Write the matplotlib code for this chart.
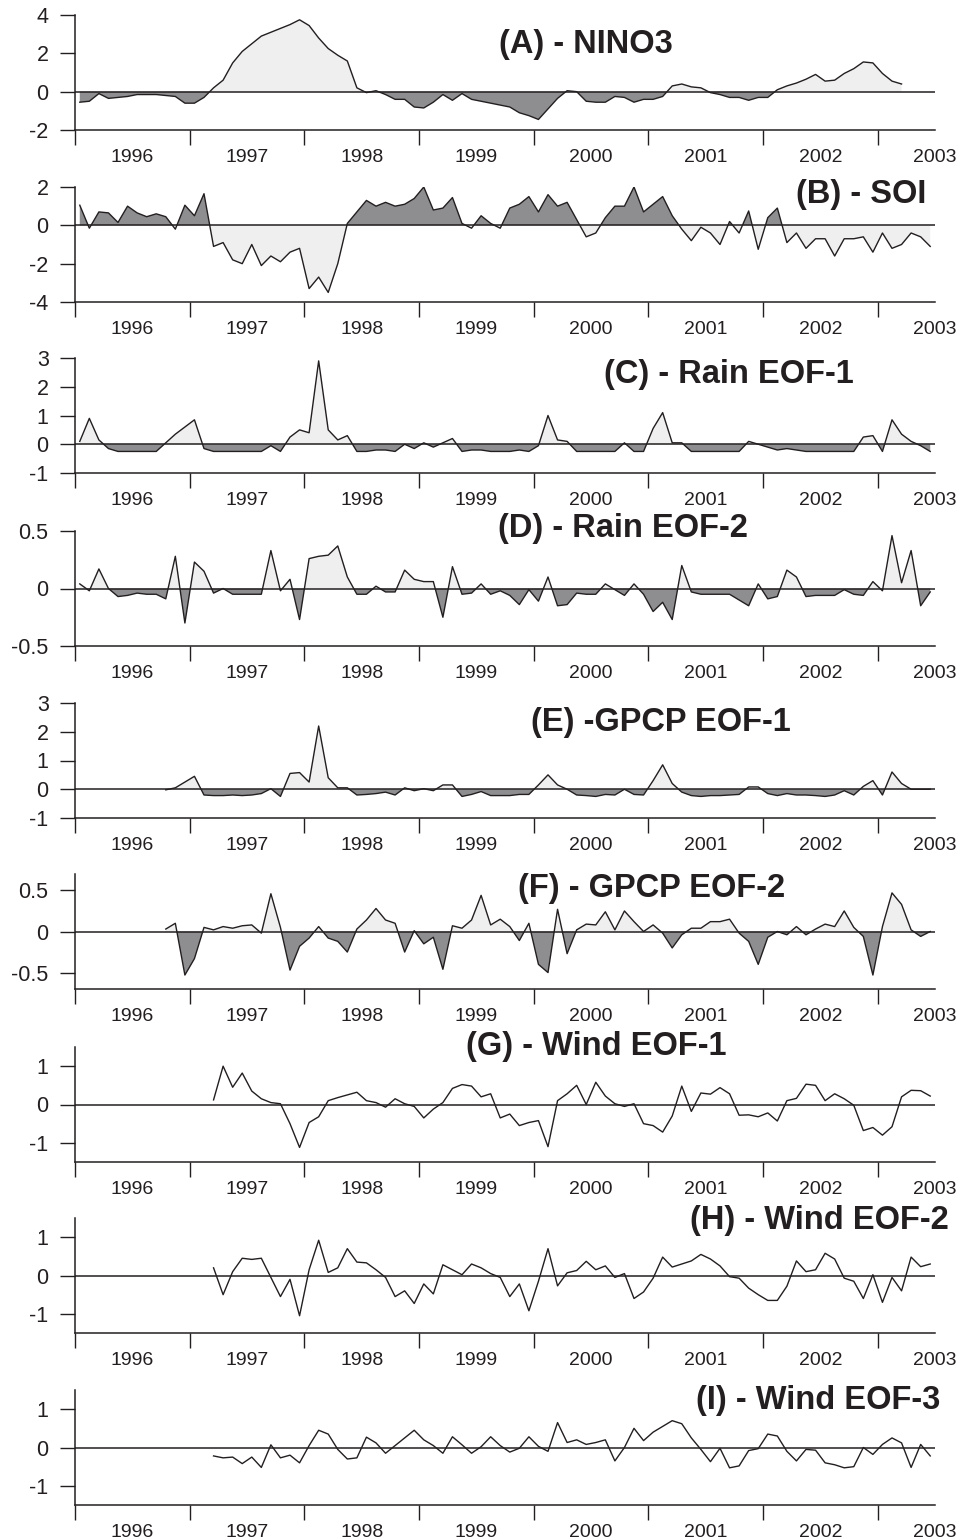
import numpy as np
import matplotlib.pyplot as plt

plt.rcParams['font.family'] = ['Liberation Sans', 'DejaVu Sans']
plt.rcParams['axes.unicode_minus'] = False

INK = '#231f20'
LIGHT = '#efefef'
DARK = '#8e8e90'

# monthly series, first value is for month `*_start` counted from Jan 1996
nino3_start = 0
nino3 = [-0.55, -0.5, -0.1, -0.35, -0.3, -0.25, -0.15, -0.15, -0.15, -0.2, -0.25, -0.6,
         -0.6, -0.3, 0.2, 0.6, 1.5, 2.1, 2.5, 2.9, 3.1, 3.3, 3.5, 3.75,
         3.45, 2.8, 2.25, 1.9, 1.6, 0.2, -0.05, 0.05, -0.15, -0.4, -0.4, -0.8,
         -0.85, -0.55, -0.15, -0.45, -0.1, -0.4, -0.5, -0.6, -0.7, -0.8, -1.1, -1.25,
         -1.45, -0.9, -0.35, 0.05, 0.0, -0.5, -0.55, -0.55, -0.25, -0.3, -0.55, -0.4,
         -0.4, -0.25, 0.3, 0.4, 0.25, 0.2, -0.05, -0.15, -0.3, -0.3, -0.45, -0.3,
         -0.3, 0.1, 0.3, 0.45, 0.65, 0.9, 0.55, 0.6, 0.95, 1.2, 1.55, 1.5,
         0.95, 0.55, 0.4]

soi_start = 0
soi = [1.05, -0.15, 0.7, 0.65, 0.15, 1.0, 0.65, 0.45, 0.6, 0.45, -0.2, 1.05,
       0.5, 1.65, -1.1, -0.9, -1.8, -2.0, -1.0, -2.1, -1.6, -1.9, -1.4, -1.2,
       -3.3, -2.7, -3.5, -2.0, 0.1, 0.7, 1.3, 1.0, 1.2, 1.0, 1.1, 1.4,
       2.0, 0.8, 0.9, 1.45, 0.1, -0.15, 0.5, 0.1, -0.15, 0.9, 1.1, 1.5,
       0.7, 1.6, 1.0, 1.2, 0.3, -0.6, -0.4, 0.4, 1.0, 1.0, 2.0, 0.7,
       1.1, 1.5, 0.5, -0.2, -0.8, -0.1, -0.4, -1.0, 0.2, -0.4, 0.75, -1.25,
       0.4, 0.9, -0.9, -0.4, -1.2, -0.7, -0.7, -1.6, -0.7, -0.7, -0.6, -1.4,
       -0.4, -1.2, -1.0, -0.4, -0.6, -1.1]

rain1_start = 0
rain1 = [0.1, 0.9, 0.15, -0.15, -0.25, -0.25, -0.25, -0.25, -0.25, 0.05, 0.35, 0.6,
         0.85, -0.15, -0.25, -0.25, -0.25, -0.25, -0.25, -0.25, -0.05, -0.25, 0.25, 0.5,
         0.4, 2.9, 0.5, 0.15, 0.3, -0.25, -0.25, -0.2, -0.2, -0.25, 0.0, -0.15,
         0.05, -0.1, 0.05, 0.2, -0.25, -0.2, -0.2, -0.25, -0.25, -0.25, -0.2, -0.25,
         -0.05, 1.0, 0.15, 0.1, -0.25, -0.25, -0.25, -0.25, -0.25, 0.05, -0.25, -0.25,
         0.55, 1.1, 0.05, 0.05, -0.25, -0.25, -0.25, -0.25, -0.25, -0.25, 0.1, 0.0,
         -0.1, -0.2, -0.15, -0.2, -0.25, -0.25, -0.25, -0.25, -0.25, -0.25, 0.25, 0.3,
         -0.25, 0.85, 0.35, 0.1, -0.05, -0.25]

rain2_start = 0
rain2 = [0.04, -0.02, 0.17, 0.0, -0.07, -0.06, -0.04, -0.05, -0.05, -0.09, 0.28, -0.3,
         0.23, 0.15, -0.04, 0.0, -0.05, -0.05, -0.05, -0.05, 0.33, -0.02, 0.08, -0.27,
         0.26, 0.28, 0.29, 0.37, 0.1, -0.05, -0.05, 0.02, -0.03, -0.03, 0.16, 0.08,
         0.06, 0.06, -0.25, 0.19, -0.05, -0.04, 0.04, -0.05, -0.02, -0.06, -0.14, -0.01,
         -0.11, 0.1, -0.15, -0.14, -0.04, -0.05, -0.05, 0.04, -0.01, -0.06, 0.04, -0.05,
         -0.2, -0.12, -0.27, 0.2, -0.03, -0.05, -0.05, -0.05, -0.05, -0.1, -0.15, 0.04,
         -0.09, -0.07, 0.16, 0.1, -0.07, -0.06, -0.06, -0.06, -0.01, -0.05, -0.06, 0.06,
         -0.02, 0.46, 0.05, 0.33, -0.15, -0.03]

gpcp1_start = 9
gpcp1 = [-0.02, 0.05, 0.25,
         0.45, -0.2, -0.22, -0.22, -0.2, -0.22, -0.2, -0.15, 0.02, -0.25, 0.55, 0.58,
         0.25, 2.2, 0.4, 0.05, 0.05, -0.2, -0.18, -0.15, -0.1, -0.2, 0.05, -0.05,
         0.02, -0.05, 0.15, 0.15, -0.25, -0.18, -0.08, -0.22, -0.22, -0.22, -0.18, -0.18,
         0.15, 0.5, 0.15, 0.0, -0.2, -0.22, -0.25, -0.18, -0.2, 0.0, -0.18, -0.2,
         0.3, 0.85, 0.2, -0.1, -0.22, -0.25, -0.22, -0.22, -0.2, -0.18, 0.08, 0.08,
         -0.15, -0.22, -0.15, -0.2, -0.2, -0.22, -0.25, -0.2, -0.05, -0.2, 0.1, 0.3,
         -0.2, 0.6, 0.2, 0.0, 0.0, 0.0]

gpcp2_start = 9
gpcp2 = [0.03, 0.1, -0.53,
         -0.33, 0.05, 0.02, 0.06, 0.04, 0.07, 0.08, -0.02, 0.46, 0.05, -0.47, -0.18,
         -0.08, 0.06, -0.08, -0.12, -0.25, 0.03, 0.14, 0.28, 0.14, 0.1, -0.25, 0.01,
         -0.15, -0.07, -0.46, 0.07, 0.04, 0.14, 0.44, 0.08, 0.15, 0.06, -0.11, 0.1,
         -0.4, -0.5, 0.27, -0.27, 0.02, 0.09, 0.08, 0.24, 0.02, 0.25, 0.12, 0.0,
         0.08, -0.02, -0.2, -0.04, 0.04, 0.04, 0.12, 0.12, 0.15, -0.02, -0.12, -0.4,
         -0.07, 0.0, -0.04, 0.06, -0.04, 0.03, 0.09, 0.06, 0.25, 0.05, -0.06, -0.53,
         0.06, 0.47, 0.33, 0.02, -0.06, 0.0]

wind1_start = 14
wind1 = [0.12, 1.0, 0.45, 0.82, 0.35, 0.15, 0.05, 0.02, -0.5, -1.12,
         -0.47, -0.32, 0.1, 0.18, 0.25, 0.32, 0.1, 0.05, -0.07, 0.15, 0.02, -0.05,
         -0.35, -0.12, 0.05, 0.42, 0.52, 0.48, 0.2, 0.28, -0.35, -0.25, -0.55, -0.47,
         -0.42, -1.1, 0.1, 0.28, 0.5, 0.0, 0.58, 0.22, 0.02, -0.05, 0.02, -0.5,
         -0.55, -0.72, -0.3, 0.48, -0.18, 0.3, 0.27, 0.44, 0.28, -0.28, -0.27, -0.32,
         -0.22, -0.43, 0.1, 0.16, 0.53, 0.5, 0.1, 0.28, 0.15, -0.02, -0.68, -0.6,
         -0.8, -0.58, 0.2, 0.37, 0.36, 0.22]

wind2_start = 14
wind2 = [0.2, -0.5, 0.1, 0.45, 0.42, 0.45, -0.05, -0.55, -0.1, -1.05,
         0.15, 0.92, 0.08, 0.2, 0.7, 0.35, 0.33, 0.15, -0.05, -0.55, -0.4, -0.73,
         -0.22, -0.48, 0.28, 0.15, 0.02, 0.3, 0.2, 0.05, -0.05, -0.55, -0.22, -0.92,
         -0.15, 0.7, -0.27, 0.07, 0.13, 0.37, 0.15, 0.25, -0.05, 0.05, -0.6, -0.43,
         -0.07, 0.48, 0.22, 0.3, 0.38, 0.55, 0.43, 0.25, -0.03, -0.07, -0.33, -0.5,
         -0.65, -0.65, -0.28, 0.38, 0.1, 0.15, 0.58, 0.43, -0.07, -0.15, -0.6, 0.02,
         -0.7, -0.05, -0.4, 0.48, 0.23, 0.3]

wind3_start = 14
wind3 = [-0.22, -0.27, -0.25, -0.42, -0.25, -0.52, 0.07, -0.27, -0.2, -0.4,
         0.05, 0.45, 0.35, -0.05, -0.3, -0.27, 0.27, 0.12, -0.15, 0.05, 0.25, 0.45,
         0.2, 0.05, -0.15, 0.28, 0.07, -0.15, 0.02, 0.28, 0.05, -0.12, -0.02, 0.28,
         0.03, -0.1, 0.65, 0.13, 0.2, 0.08, 0.13, 0.2, -0.35, 0.0, 0.5, 0.18,
         0.4, 0.55, 0.7, 0.62, 0.25, -0.05, -0.37, -0.02, -0.53, -0.48, -0.08, -0.03,
         0.35, 0.3, -0.1, -0.35, -0.05, -0.07, -0.4, -0.45, -0.53, -0.5, 0.0, -0.18,
         0.08, 0.25, 0.12, -0.52, 0.08, -0.22]

panels = [
    ('(A) - NINO3', nino3_start, nino3, (-2, 4), [-2, 0, 2, 4], 'pos_light'),
    ('(B) - SOI', soi_start, soi, (-4, 2), [-4, -2, 0, 2], 'pos_dark'),
    ('(C) - Rain EOF-1', rain1_start, rain1, (-1, 3), [-1, 0, 1, 2, 3], 'pos_light'),
    ('(D) - Rain EOF-2', rain2_start, rain2, (-0.5, 0.5), [-0.5, 0, 0.5], 'pos_light'),
    ('(E) -GPCP EOF-1', gpcp1_start, gpcp1, (-1, 3), [-1, 0, 1, 2, 3], 'pos_light'),
    ('(F) - GPCP EOF-2', gpcp2_start, gpcp2, (-0.7, 0.7), [-0.5, 0, 0.5], 'pos_light'),
    ('(G) - Wind EOF-1', wind1_start, wind1, (-1.5, 1.5), [-1, 0, 1], None),
    ('(H) - Wind EOF-2', wind2_start, wind2, (-1.5, 1.5), [-1, 0, 1], None),
    ('(I) - Wind EOF-3', wind3_start, wind3, (-1.5, 1.5), [-1, 0, 1], None),
]

years = np.arange(1996, 2004)

# layout in pixels (figure is 965 x 1540 at 100 dpi)
W, H = 965, 1540
ax_left, ax_right = 75, 935
ax_tops = [15, 187, 358, 531, 703, 874, 1047, 1218, 1390]
ax_h = 115
title_pos = [(499, 44), (796, 195), (604, 374), (498, 529), (531, 723),
             (518, 889), (466, 1047), (690, 1220), (696, 1400)]

fig = plt.figure(figsize=(W / 100, H / 100), dpi=100)

for i, (title, start, vals, ylim, yticks, fill) in enumerate(panels):
    top = ax_tops[i]
    ax = fig.add_axes([ax_left / W, 1 - (top + ax_h) / H,
                       (ax_right - ax_left) / W, ax_h / H])
    y = np.array(vals)
    x = 1996 + (np.arange(len(y)) + start + 0.5) / 12.0

    if fill == 'pos_light':
        up, down = LIGHT, DARK
    elif fill == 'pos_dark':
        up, down = DARK, LIGHT
    if fill is not None:
        ax.fill_between(x, 0, y, where=y >= 0, interpolate=True,
                        facecolor=up, edgecolor='none', zorder=1)
        ax.fill_between(x, 0, y, where=y <= 0, interpolate=True,
                        facecolor=down, edgecolor='none', zorder=1)
    ax.axhline(0, color=INK, lw=1.1, zorder=2)
    ax.plot(x, y, color=INK, lw=1.0, zorder=3)

    ax.set_xlim(1996, 2003.5)
    ax.set_ylim(*ylim)
    ax.set_yticks(yticks)
    ax.set_yticklabels(['%g' % v for v in yticks])

    # tick marks at year boundaries, year labels centred in each year
    ax.set_xticks(years, minor=True)
    ax.set_xticks(years + 0.5)
    ax.set_xticklabels([str(v) for v in years])
    ax.tick_params(axis='x', which='major', length=0, pad=13.5,
                   labelsize=14, labelcolor=INK)
    ax.tick_params(axis='x', which='minor', direction='out', length=11,
                   width=1, color=INK)
    ax.tick_params(axis='y', direction='out', length=11, width=1, color=INK,
                   pad=8, labelsize=15.5, labelcolor=INK)

    for s in ('top', 'right'):
        ax.spines[s].set_visible(False)
    for s in ('left', 'bottom'):
        ax.spines[s].set_color(INK)
        ax.spines[s].set_linewidth(1.1)
    ax.set_facecolor('none')

    tx, ty = title_pos[i]
    fig.text(tx / W, 1 - ty / H, title, ha='left', va='center',
             fontsize=23.5, fontweight='bold', color=INK)

fig.savefig('out.png', dpi=100)
